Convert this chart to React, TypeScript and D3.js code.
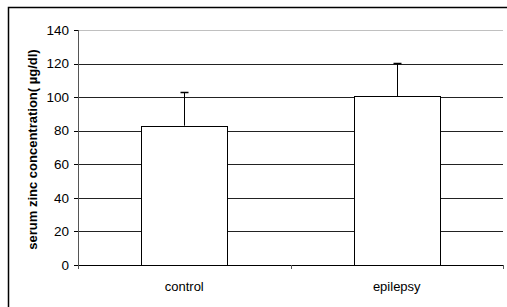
import React, { useEffect, useRef } from "react";
import * as d3 from "d3";

const categories = ["control", "epilepsy"];
const means = [83, 100.5];
const errors = [20, 20];
const yTicks = [0, 20, 40, 60, 80, 100, 120, 140];

const App: React.FC = () => {
  const svgRef = useRef<SVGSVGElement>(null);

  useEffect(() => {
    if (!svgRef.current) return;
    const svg = d3.select(svgRef.current);
    svg.selectAll("*").remove();

    const width = 507;
    const height = 307;
    const left = 78;
    const right = 503;
    const top = 30;
    const bottom = 265;

    svg.attr("width", width).attr("height", height);

    // outer chart border (cut off at right/bottom)
    svg
      .append("rect")
      .attr("x", 8.5)
      .attr("y", 7.5)
      .attr("width", 510)
      .attr("height", 310)
      .attr("fill", "#fff")
      .attr("stroke", "#000")
      .attr("stroke-width", 1.5);

    const x = d3.scaleBand<string>().domain(categories).range([left, right]).padding(0);
    const y = d3.scaleLinear().domain([0, 140]).range([bottom, top]);

    const font = "Liberation Sans, Arial, sans-serif";

    // gridlines
    svg
      .append("g")
      .selectAll("line")
      .data(yTicks.filter((t) => t > 0))
      .join("line")
      .attr("x1", left)
      .attr("x2", right)
      .attr("y1", (d) => Math.round(y(d)) + 0.5)
      .attr("y2", (d) => Math.round(y(d)) + 0.5)
      .attr("stroke", (d) => (d === 140 ? "#c0c0c0" : "#222"))
      .attr("stroke-width", 1);

    // bars
    const barW = x.bandwidth() * 0.405;
    const bars = svg.append("g");
    categories.forEach((c, i) => {
      const cx = (x(c) || 0) + x.bandwidth() / 2;
      const topV = means[i] + errors[i];
      // error bar
      bars
        .append("line")
        .attr("x1", Math.round(cx) + 0.5)
        .attr("x2", Math.round(cx) + 0.5)
        .attr("y1", y(means[i]))
        .attr("y2", Math.round(y(topV)) + 0.5)
        .attr("stroke", "#000");
      bars
        .append("line")
        .attr("x1", Math.round(cx) - 3.5)
        .attr("x2", Math.round(cx) + 4.5)
        .attr("y1", Math.round(y(topV)) + 0.5)
        .attr("y2", Math.round(y(topV)) + 0.5)
        .attr("stroke", "#000")
        .attr("stroke-width", 1.5);
      bars
        .append("rect")
        .attr("x", Math.round(cx - barW / 2) + 0.5)
        .attr("y", Math.round(y(means[i])) + 0.5)
        .attr("width", Math.round(barW))
        .attr("height", Math.round(bottom - y(means[i])))
        .attr("fill", "#fff")
        .attr("stroke", "#000")
        .attr("stroke-width", 1);
    });

    // y axis
    const yAxis = svg.append("g");
    yAxis
      .append("line")
      .attr("x1", left + 0.5)
      .attr("x2", left + 0.5)
      .attr("y1", top)
      .attr("y2", bottom)
      .attr("stroke", "#555");
    yAxis
      .selectAll("line.tick")
      .data(yTicks)
      .join("line")
      .attr("class", "tick")
      .attr("x1", left - 4)
      .attr("x2", left)
      .attr("y1", (d) => Math.round(y(d)) + 0.5)
      .attr("y2", (d) => Math.round(y(d)) + 0.5)
      .attr("stroke", "#000");
    yAxis
      .selectAll("text")
      .data(yTicks)
      .join("text")
      .attr("x", left - 9)
      .attr("y", (d) => y(d))
      .attr("dy", "0.35em")
      .attr("text-anchor", "end")
      .style("font-family", font)
      .style("font-size", "13.5px")
      .attr("fill", "#000")
      .text((d) => d);

    // x axis
    const xAxis = svg.append("g");
    xAxis
      .append("line")
      .attr("x1", left)
      .attr("x2", right)
      .attr("y1", bottom + 0.5)
      .attr("y2", bottom + 0.5)
      .attr("stroke", "#000");
    const tickXs = [left, ...categories.map((c) => (x(c) || 0) + x.bandwidth())];
    xAxis
      .selectAll("line.tick")
      .data(tickXs)
      .join("line")
      .attr("class", "tick")
      .attr("x1", (d) => Math.round(d) + 0.5)
      .attr("x2", (d) => Math.round(d) + 0.5)
      .attr("y1", bottom)
      .attr("y2", bottom + 4)
      .attr("stroke", "#555");
    xAxis
      .selectAll("text")
      .data(categories)
      .join("text")
      .attr("x", (d) => (x(d) || 0) + x.bandwidth() / 2)
      .attr("y", bottom + 26)
      .attr("text-anchor", "middle")
      .style("font-family", font)
      .style("font-size", "13px")
      .attr("fill", "#000")
      .text((d) => d);

    // y label
    svg
      .append("text")
      .attr("transform", `translate(37, ${(top + bottom) / 2 + 2}) rotate(-90)`)
      .attr("text-anchor", "middle")
      .style("font-family", font)
      .style("font-size", "13px")
      .style("font-weight", "bold")
      .attr("fill", "#000")
      .text("serum zinc concentration( µg/dl)");
  }, []);

  return (
    <div style={{ position: "absolute", left: 0, top: 0 }}>
      <svg ref={svgRef} style={{ display: "block" }}></svg>
    </div>
  );
};

export default App;
